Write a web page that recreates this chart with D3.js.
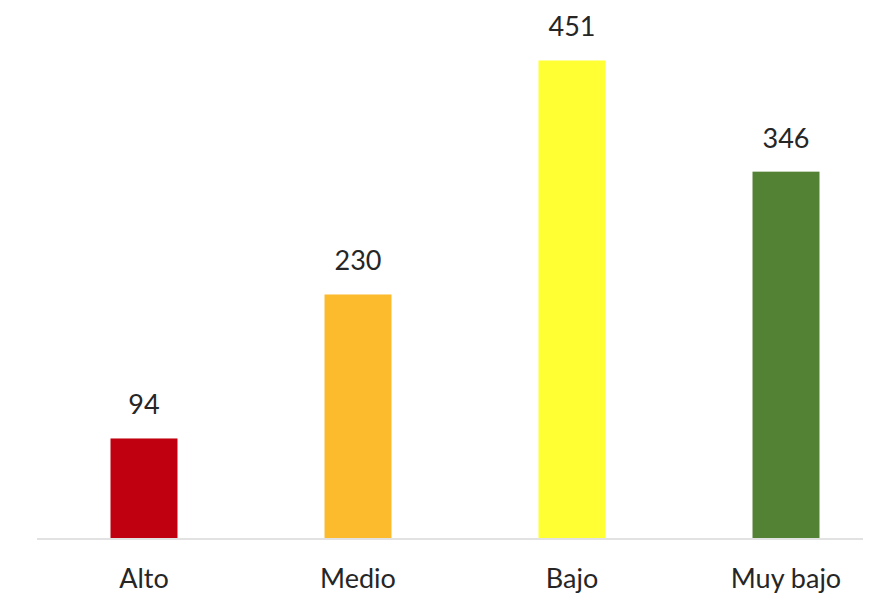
<!DOCTYPE html>
<html>
<head>
<meta charset="utf-8">
<script src="https://cdn.jsdelivr.net/npm/d3@7"></script>
<style>
  body { margin: 0; background: #fff; }
  svg text { font-family: Lato, "Open Sans", sans-serif; fill: #262626; }
</style>
</head>
<body>
<svg id="chart" width="869" height="594"></svg>
<script>
const categories = ['Alto', 'Medio', 'Bajo', 'Muy bajo'];
const values = [94, 230, 451, 346];
const colors = ['#c00010', '#fbbb2d', '#ffff33', '#548235'];

let svg = d3.select('#chart');

let padding = {
  left: 37,
  right: 6,
  base: 538
};

let xScale = d3.scaleBand()
  .domain(categories)
  .range([padding.left, 893])
  .paddingInner(0.687)
  .paddingOuter(0.3435);

let yScale = d3.scaleLinear()
  .domain([0, 500])
  .range([padding.base, padding.base - 529.4]);

// baseline
svg.append('line')
  .attr('x1', padding.left)
  .attr('x2', 869 - padding.right)
  .attr('y1', padding.base + 1)
  .attr('y2', padding.base + 1)
  .attr('stroke', '#d9d9d9')
  .attr('stroke-width', 1.5);

svg.selectAll('.bar')
  .data(values)
  .enter()
  .append('rect')
  .attr('class', 'bar')
  .attr('x', (d, i) => xScale(categories[i]))
  .attr('y', d => yScale(d))
  .attr('width', xScale.bandwidth())
  .attr('height', d => yScale(0) - yScale(d))
  .attr('fill', (d, i) => colors[i]);

svg.selectAll('.value')
  .data(values)
  .enter()
  .append('text')
  .attr('class', 'value')
  .attr('x', (d, i) => xScale(categories[i]) + xScale.bandwidth() / 2)
  .attr('y', d => yScale(d) - 24)
  .attr('text-anchor', 'middle')
  .style('font-size', '27px')
  .text(d => d);

svg.selectAll('.cat')
  .data(categories)
  .enter()
  .append('text')
  .attr('class', 'cat')
  .attr('x', d => xScale(d) + xScale.bandwidth() / 2)
  .attr('y', 588)
  .attr('text-anchor', 'middle')
  .style('font-size', '27px')
  .text(d => d);
</script>
</body>
</html>
